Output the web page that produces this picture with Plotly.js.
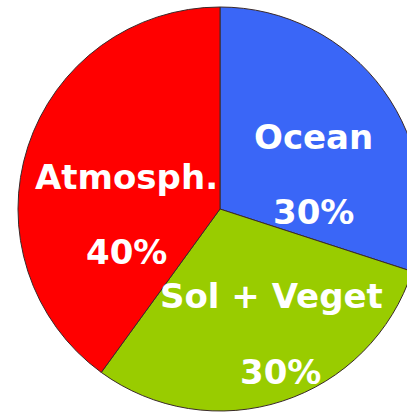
<!DOCTYPE html>
<html>
<head>
<meta charset="utf-8">
<script src="https://cdn.plot.ly/plotly-3.0.1.min.js"></script>
<style>
html,body{margin:0;padding:0;overflow:hidden;background:#fff;width:407px;height:414px;}
#chart{width:440px;height:414px;}
</style>
</head>
<body>
<div id="chart"></div>
<script>
// Data
const labels = ["Ocean", "Sol + Veget", "Atmosph."];
const values = [30, 30, 40];
const colors = ["#3a66f7", "#99cc00", "#ff0000"];

const W = 440, H = 414;
const trace = {
  type: "pie",
  labels: labels,
  values: values,
  sort: false,
  direction: "clockwise",
  rotation: 0,
  textinfo: "none",
  hoverinfo: "none",
  marker: {colors: colors, line: {color: "#3a2a2a", width: 1}},
  domain: {x: [18 / W, 422 / W], y: [(H - 411) / H, (H - 7) / H]},
  showlegend: false
};

// label positions (pixel centres) for each slice: name line and percent line
const namePos = [[313, 137], [271, 296], [126, 177]];
const pctPos = [[313, 212], [280, 372], [126, 252]];
const annotations = [];
const font = {family: "DejaVu Sans, Verdana, sans-serif", size: 34, color: "#ffffff", weight: "bold"};
for (let i = 0; i < labels.length; i++) {
  annotations.push({text: "<b>" + labels[i] + "</b>", x: namePos[i][0] / W, y: 1 - namePos[i][1] / H,
    xref: "paper", yref: "paper", xanchor: "center", yanchor: "middle", showarrow: false, font: font});
  annotations.push({text: "<b>" + values[i] + "%</b>", x: pctPos[i][0] / W, y: 1 - pctPos[i][1] / H,
    xref: "paper", yref: "paper", xanchor: "center", yanchor: "middle", showarrow: false, font: font});
}

Plotly.newPlot("chart", [trace], {
  width: W, height: H,
  margin: {l: 0, r: 0, t: 0, b: 0},
  paper_bgcolor: "#ffffff",
  annotations: annotations
}, {staticPlot: true});
</script>
</body>
</html>
